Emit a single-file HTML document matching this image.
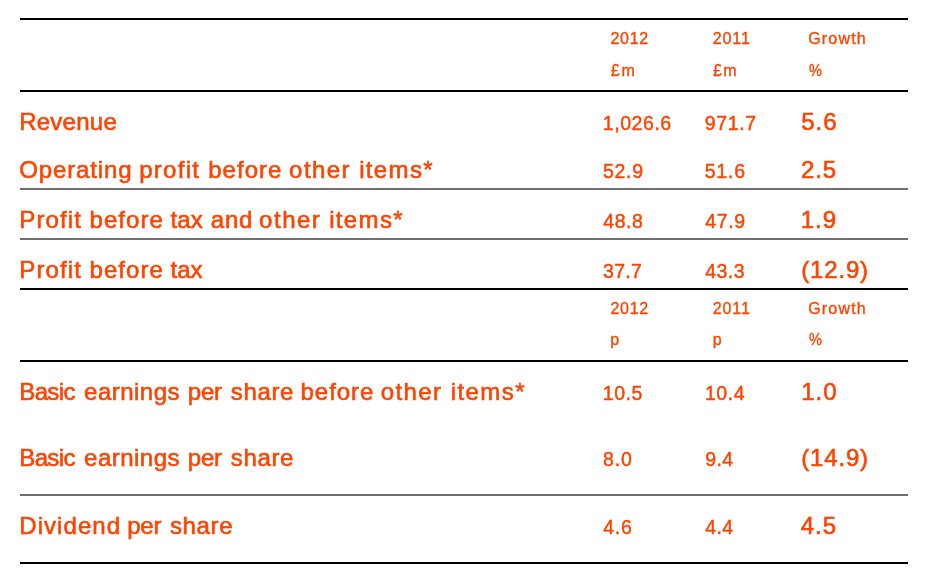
<!DOCTYPE html>
<html lang="en">
<head>
<meta charset="utf-8">
<title>Financial highlights</title>
<style>
html,body{margin:0;padding:0;background:#fff;}
body{width:926px;height:584px;position:relative;overflow:hidden;font-family:"Liberation Sans",sans-serif;color:#fd4400;}
.rule{position:absolute;left:20px;width:888px;height:2px;}
.k{background:#000;}
.g{background:#707070;}
.t{position:absolute;white-space:nowrap;line-height:1;margin:0;padding:0;}
.h{font-size:16px;-webkit-text-stroke:0.35px #fd4400;}
.n{font-size:19.5px;-webkit-text-stroke:0.45px #fd4400;}
.l,.v{font-size:24px;-webkit-text-stroke:0.6px #fd4400;}
.pc{transform:scaleX(0.91);transform-origin:0 50%;}
</style>
</head>
<body>
<div class="rule k" style="top:18px"></div>
<div class="rule k" style="top:90px"></div>
<div class="rule g" style="top:188px"></div>
<div class="rule g" style="top:238px"></div>
<div class="rule k" style="top:288px"></div>
<div class="rule k" style="top:360px"></div>
<div class="rule g" style="top:494px"></div>
<div class="rule k" style="top:562px"></div>
<div class="row">
  <span class="t h" style="left:610.55px;top:31px;letter-spacing:0.67px">2012</span>
  <span class="t h" style="left:712.65px;top:31px;letter-spacing:0.96px">2011</span>
  <span class="t h" style="left:808.15px;top:31px;letter-spacing:1.21px">Growth</span>
</div>
<div class="row">
  <span class="t h" style="left:610.75px;top:63px;letter-spacing:1.84px">£m</span>
  <span class="t h" style="left:712.9px;top:63px;letter-spacing:1.53px">£m</span>
  <span class="t h pc" style="left:808.65px;top:63px;letter-spacing:0px">%</span>
</div>
<div class="row">
  <span class="t l" style="left:19.2px;top:110px;letter-spacing:0.25px">Revenue</span>
  <span class="t n" style="left:602.8px;top:114px;letter-spacing:0.56px">1,026.6</span>
  <span class="t n" style="left:704.65px;top:114px;letter-spacing:0.66px">971.7</span>
  <span class="t v" style="left:801.15px;top:110px;letter-spacing:1.01px">5.6</span>
</div>
<div class="row">
  <span class="t l" style="left:19.25px;top:158px;letter-spacing:0.86px">Operating</span>
  <span class="t l" style="left:139.15px;top:158px;letter-spacing:1.29px">profit</span>
  <span class="t l" style="left:208.25px;top:158px;letter-spacing:1.02px">before</span>
  <span class="t l" style="left:289.1px;top:158px;letter-spacing:1.44px">other</span>
  <span class="t l" style="left:359.2px;top:158px;letter-spacing:1.34px">items*</span>
  <span class="t n" style="left:603.05px;top:162px;letter-spacing:0.66px">52.9</span>
  <span class="t n" style="left:704.65px;top:162px;letter-spacing:0.81px">51.6</span>
  <span class="t v" style="left:800.9px;top:158px;letter-spacing:0.9px">2.5</span>
</div>
<div class="row">
  <span class="t l" style="left:19.25px;top:208px;letter-spacing:1.15px">Profit</span>
  <span class="t l" style="left:89.6px;top:208px;letter-spacing:1.02px">before</span>
  <span class="t l" style="left:170.45px;top:208px;letter-spacing:0.2px">tax</span>
  <span class="t l" style="left:210.8px;top:208px;letter-spacing:0.76px">and</span>
  <span class="t l" style="left:259.1px;top:208px;letter-spacing:1.51px">other</span>
  <span class="t l" style="left:329.2px;top:208px;letter-spacing:1.34px">items*</span>
  <span class="t n" style="left:603.3px;top:212px;letter-spacing:0.51px">48.8</span>
  <span class="t n" style="left:705.15px;top:212px;letter-spacing:0.66px">47.9</span>
  <span class="t v" style="left:800.65px;top:208px;letter-spacing:1.01px">1.9</span>
</div>
<div class="row">
  <span class="t l" style="left:19.25px;top:258px;letter-spacing:1.15px">Profit</span>
  <span class="t l" style="left:89.6px;top:258px;letter-spacing:1.02px">before</span>
  <span class="t l" style="left:170.45px;top:258px;letter-spacing:0.04px">tax</span>
  <span class="t n" style="left:603.05px;top:262px;letter-spacing:0.29px">37.7</span>
  <span class="t n" style="left:705.15px;top:262px;letter-spacing:0.51px">43.3</span>
  <span class="t v" style="left:801.15px;top:258px;letter-spacing:0.85px">(12.9)</span>
</div>
<div class="row">
  <span class="t h" style="left:610.55px;top:301px;letter-spacing:0.67px">2012</span>
  <span class="t h" style="left:712.65px;top:301px;letter-spacing:0.96px">2011</span>
  <span class="t h" style="left:808.15px;top:301px;letter-spacing:1.21px">Growth</span>
</div>
<div class="row">
  <span class="t h" style="left:610.25px;top:332px;letter-spacing:0px">p</span>
  <span class="t h" style="left:712.75px;top:332px;letter-spacing:0px">p</span>
  <span class="t h pc" style="left:808.65px;top:332px;letter-spacing:0px">%</span>
</div>
<div class="row">
  <span class="t l" style="left:19.25px;top:380px;letter-spacing:-0.63px">Basic</span>
  <span class="t l" style="left:84.1px;top:380px;letter-spacing:0.47px">earnings</span>
  <span class="t l" style="left:187.7px;top:380px;letter-spacing:-0.14px">per</span>
  <span class="t l" style="left:230.75px;top:380px;letter-spacing:0.65px">share</span>
  <span class="t l" style="left:300.6px;top:380px;letter-spacing:0.93px">before</span>
  <span class="t l" style="left:380.7px;top:380px;letter-spacing:1.4px">other</span>
  <span class="t l" style="left:450.85px;top:380px;letter-spacing:1.39px">items*</span>
  <span class="t n" style="left:602.75px;top:384px;letter-spacing:0.57px">10.5</span>
  <span class="t n" style="left:704.9px;top:384px;letter-spacing:0.59px">10.4</span>
  <span class="t v" style="left:801.15px;top:380px;letter-spacing:0.99px">1.0</span>
</div>
<div class="row">
  <span class="t l" style="left:19.25px;top:446px;letter-spacing:-0.63px">Basic</span>
  <span class="t l" style="left:84.1px;top:446px;letter-spacing:0.47px">earnings</span>
  <span class="t l" style="left:187.7px;top:446px;letter-spacing:-0.14px">per</span>
  <span class="t l" style="left:230.75px;top:446px;letter-spacing:0.66px">share</span>
  <span class="t n" style="left:603.05px;top:450px;letter-spacing:0.79px">8.0</span>
  <span class="t n" style="left:705.15px;top:450px;letter-spacing:0.43px">9.4</span>
  <span class="t v" style="left:801.15px;top:446px;letter-spacing:0.85px">(14.9)</span>
</div>
<div class="row">
  <span class="t l" style="left:19.25px;top:514px;letter-spacing:1.07px">Dividend</span>
  <span class="t l" style="left:127.15px;top:514px;letter-spacing:-0.14px">per</span>
  <span class="t l" style="left:169.95px;top:514px;letter-spacing:0.66px">share</span>
  <span class="t n" style="left:603.3px;top:518px;letter-spacing:0.68px">4.6</span>
  <span class="t n" style="left:705.15px;top:518px;letter-spacing:0.43px">4.4</span>
  <span class="t v" style="left:800.8px;top:514px;letter-spacing:0.97px">4.5</span>
</div>
</body>
</html>
